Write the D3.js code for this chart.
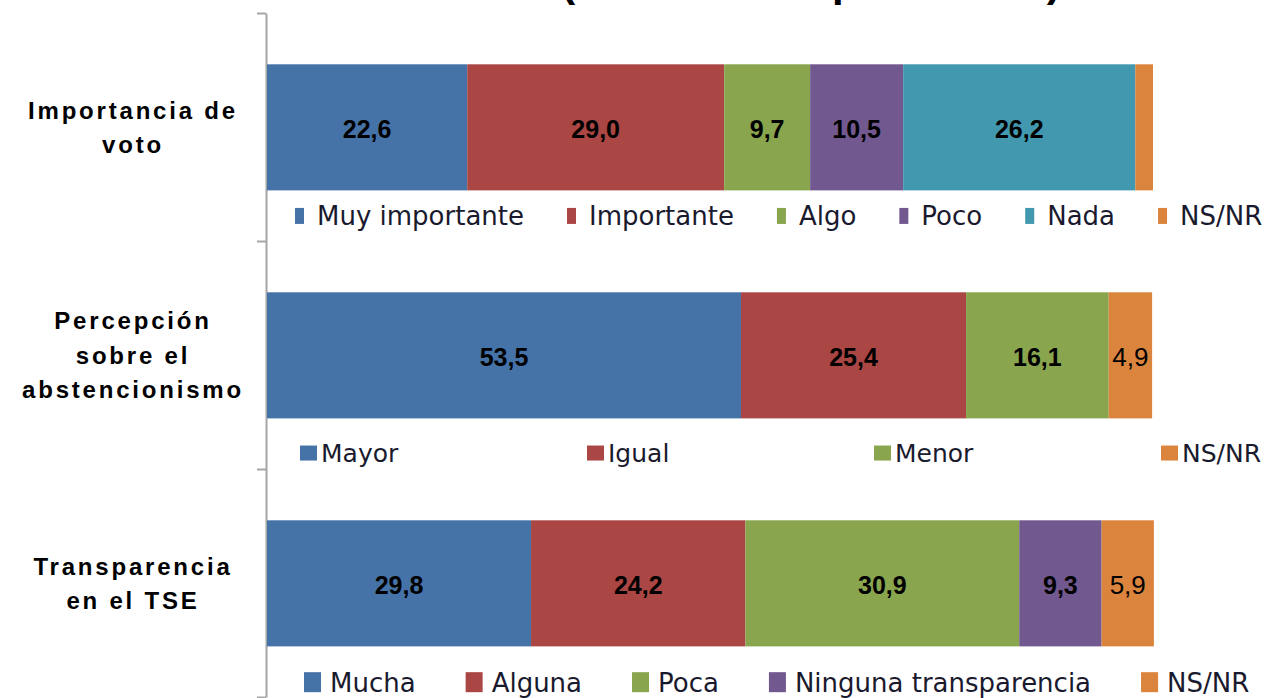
<!DOCTYPE html>
<html>
<head>
<meta charset="utf-8">
<script src="https://cdn.jsdelivr.net/npm/d3@7"></script>
<style>
  body { margin: 0; background: #fff; }
  svg { display: block; }
</style>
</head>
<body>
<div class="barChart"></div>
<script>
// data
var categories   = ["Importancia de voto", "Percepción sobre el abstencionismo", "Transparencia en el TSE"];
var catLines     = [["Importancia de", "voto"], ["Percepción", "sobre el", "abstencionismo"], ["Transparencia", "en el TSE"]];

var votoLabels   = ["Muy importante", "Importante", "Algo", "Poco", "Nada", "NS/NR"];
var votoValues   = [22.6, 29.0, 9.7, 10.5, 26.2, 2.0];

var abstLabels   = ["Mayor", "Igual", "Menor", "NS/NR"];
var abstValues   = [53.5, 25.4, 16.1, 4.9];

var tseLabels    = ["Mucha", "Alguna", "Poca", "Ninguna transparencia", "NS/NR"];
var tseValues    = [29.8, 24.2, 30.9, 9.3, 5.9];

var titleText    = "(Distribución porcentual)";

var palette = ["#4572A7", "#AA4643", "#89A54E", "#71588F", "#4198AF", "#DB843D"];
var nsColor = "#DB843D";

var width = 1282, height = 698;

var svg = d3.select(".barChart")
    .append("svg")
    .attr("width", width)
    .attr("height", height);

// title, mostly above the visible area
svg.append("text")
    .attr("x", 811)
    .attr("y", -4)
    .attr("text-anchor", "middle")
    .style("font-family", "Liberation Sans, Arial, sans-serif")
    .style("font-weight", "bold")
    .style("font-size", "42px")
    .text(titleText);

var x = d3.scaleLinear()
    .domain([0, 100])
    .range([267, 1153]);

var y = d3.scaleBand()
    .domain(categories)
    .range([13, 697]);

var bw = y.bandwidth();

// axis with tick marks at band boundaries
var yAxisScale = d3.scaleLinear().domain([0, categories.length]).range([13, 697]);
var axis = svg.append("g")
    .attr("transform", "translate(266,0)")
    .call(d3.axisLeft(yAxisScale)
        .tickValues(d3.range(categories.length + 1))
        .tickSize(9)
        .tickSizeOuter(0)
        .tickFormat(""));
axis.selectAll("path, line").attr("stroke", "#a6a6a6").attr("stroke-width", 2);

var fmt = function (v) { return d3.format(".1f")(v).replace(".", ","); };

var rows = [
    { cat: categories[0], lines: catLines[0], labels: votoLabels, values: votoValues,
      legend: { mode: "flow", start: 295, mw: 9, mh: 16, textGap: 22, gap: 43, size: 26, dy: 0.89 } },
    { cat: categories[1], lines: catLines[1], labels: abstLabels, values: abstValues,
      legend: { mode: "even", start: 300, step: 287, mw: 17, mh: 15, textGap: 21, size: 25, dy: 0.93 } },
    { cat: categories[2], lines: catLines[2], labels: tseLabels, values: tseValues,
      legend: { mode: "flow", start: 304, mw: 17, mh: 20, textGap: 26, gap: 50, size: 26, dy: 0.935 } }
];

rows.forEach(function (row)
{
    var band = y(row.cat);
    var barY = band + bw * 0.225;
    var barH = bw * 0.553;

    var segs = [];
    var acc = 0;
    row.values.forEach(function (v, i)
    {
        var c = row.labels[i] === "NS/NR" ? nsColor : palette[i];
        segs.push({ label: row.labels[i], value: v, x0: acc, x1: acc + v, color: c });
        acc += v;
    });

    var g = svg.append("g");

    g.selectAll("rect")
        .data(segs)
        .enter()
        .append("rect")
        .attr("x", function (d) { return x(d.x0); })
        .attr("width", function (d) { return x(d.x1) - x(d.x0); })
        .attr("y", barY)
        .attr("height", barH)
        .attr("fill", function (d) { return d.color; });

    g.selectAll(".val")
        .data(segs.filter(function (d) { return d.value >= 3; }))
        .enter()
        .append("text")
        .attr("class", "val")
        .attr("x", function (d) { return (x(d.x0) + x(d.x1)) / 2; })
        .attr("y", barY + barH / 2 + 2)
        .attr("dy", "0.35em")
        .attr("text-anchor", "middle")
        .style("font-family", "Liberation Sans, Arial, sans-serif")
        .style("font-size", function (d) { return d.label === "NS/NR" ? "26px" : "25px"; })
        .style("font-weight", function (d) { return d.label === "NS/NR" ? "normal" : "bold"; })
        .style("fill", "#000")
        .text(function (d) { return fmt(d.value); });

    // category label
    var lh = 34.5;
    var midY = barY + barH / 2;
    var t = svg.append("text")
        .attr("text-anchor", "middle")
        .style("font-family", "Liberation Sans, Arial, sans-serif")
        .style("font-weight", "bold")
        .style("font-size", "24px")
        .style("letter-spacing", "2.8px");
    row.lines.forEach(function (ln, i)
    {
        t.append("tspan")
            .attr("x", 133)
            .attr("y", midY + (i - (row.lines.length - 1) / 2) * lh + 8.5)
            .text(ln);
    });

    // legend
    var L = row.legend;
    var ly = band + bw * L.dy;
    var lg = svg.append("g");
    var cx = L.start;
    segs.forEach(function (d, i)
    {
        var ix = L.mode === "even" ? L.start + i * L.step : cx;
        lg.append("rect")
            .attr("x", ix)
            .attr("y", ly - L.mh / 2)
            .attr("width", L.mw)
            .attr("height", L.mh)
            .attr("fill", d.color);
        var tx = lg.append("text")
            .attr("x", ix + L.textGap)
            .attr("y", ly)
            .attr("dy", "0.36em")
            .style("font-family", "DejaVu Sans, Verdana, sans-serif")
            .style("font-size", L.size + "px")
            .style("fill", "#1a1a2e")
            .text(d.label);
        cx = ix + L.textGap + tx.node().getComputedTextLength() + (L.gap || 0);
    });
});
</script>
</body>
</html>
